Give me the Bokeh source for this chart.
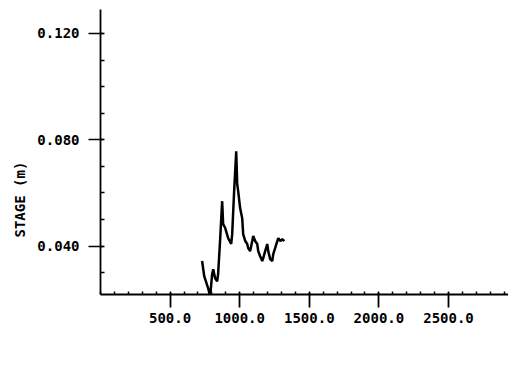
from bokeh.plotting import figure
from bokeh.models import FixedTicker, PrintfTickFormatter, Title, Range1d
from bokeh.embed import file_html
from bokeh.resources import INLINE

# Data
distance = [730, 745, 773, 788, 802, 810, 823, 838, 845, 860, 874, 881, 896, 917,
            939, 946, 960, 975, 982, 989, 1003, 1018, 1025, 1040, 1054, 1061, 1075,
            1090, 1097, 1111, 1126, 1133, 1147, 1162, 1169, 1183, 1198, 1205, 1219,
            1234, 1241, 1255, 1270, 1277, 1291, 1306, 1320]
stage = [0.0344, 0.0287, 0.0242, 0.0212, 0.0295, 0.0313, 0.0280, 0.0268, 0.0295,
         0.0430, 0.0569, 0.0483, 0.0468, 0.0430, 0.0408, 0.0445, 0.0607, 0.0757,
         0.0633, 0.0607, 0.0543, 0.0505, 0.0445, 0.0419, 0.0408, 0.0393, 0.0381,
         0.0419, 0.0438, 0.0419, 0.0408, 0.0381, 0.0362, 0.0344, 0.0355, 0.0381,
         0.0408, 0.0381, 0.0351, 0.0344, 0.0370, 0.0393, 0.0419, 0.0430, 0.0419,
         0.0426, 0.0419]

x_major = [500, 1000, 1500, 2000, 2500]
x_minor = list(range(0, 3000, 100))
y_major = [0.040, 0.080, 0.120]
y_minor = [0.02, 0.03, 0.04, 0.05, 0.06, 0.07, 0.08, 0.09, 0.10, 0.11, 0.12]
y_title = "STAGE (m)"

FONT = "DejaVu Sans Mono"

p = figure(width=508, height=383, output_backend="svg", toolbar_location=None,
           x_range=Range1d(0, 2931), y_range=Range1d(0.0218, 0.129))
p.min_border_left = 100
p.min_border_right = 0
p.min_border_top = 9
p.min_border_bottom = 89
p.outline_line_color = None
p.background_fill_color = "white"
p.border_fill_color = "white"
p.xgrid.visible = False
p.ygrid.visible = False

p.line(distance, stage, line_color="black", line_width=2.5)

xa = p.xaxis[0]
xa.ticker = FixedTicker(ticks=x_major, minor_ticks=x_minor)
xa.formatter = PrintfTickFormatter(format="%.1f")
xa.axis_line_color = "black"
xa.axis_line_width = 1.8
xa.major_tick_in = 2
xa.major_tick_out = 13
xa.major_tick_line_width = 1.8
xa.minor_tick_in = 3
xa.minor_tick_out = 0
xa.minor_tick_line_width = 1.5
xa.major_label_standoff = 5
xa.major_label_text_font = FONT
xa.major_label_text_font_size = "14px"
xa.major_label_text_font_style = "bold"
xa.major_label_text_color = "black"

ya = p.yaxis[0]
ya.ticker = FixedTicker(ticks=y_major, minor_ticks=y_minor)
ya.formatter = PrintfTickFormatter(format="%.3f")
ya.axis_line_color = "black"
ya.axis_line_width = 1.8
ya.major_tick_in = 3
ya.major_tick_out = 12
ya.major_tick_line_width = 1.5
ya.minor_tick_in = 4
ya.minor_tick_out = 0
ya.minor_tick_line_width = 1.5
ya.major_label_standoff = 9
ya.major_label_text_font = FONT
ya.major_label_text_font_size = "14px"
ya.major_label_text_font_style = "bold"
ya.major_label_text_color = "black"

title = Title(text=y_title, align="left", offset=57,
              text_font=FONT, text_font_size="14px", text_font_style="bold",
              text_color="black", standoff=13)
p.add_layout(title, "left")

open("out.html", "w").write(file_html(p, INLINE))
